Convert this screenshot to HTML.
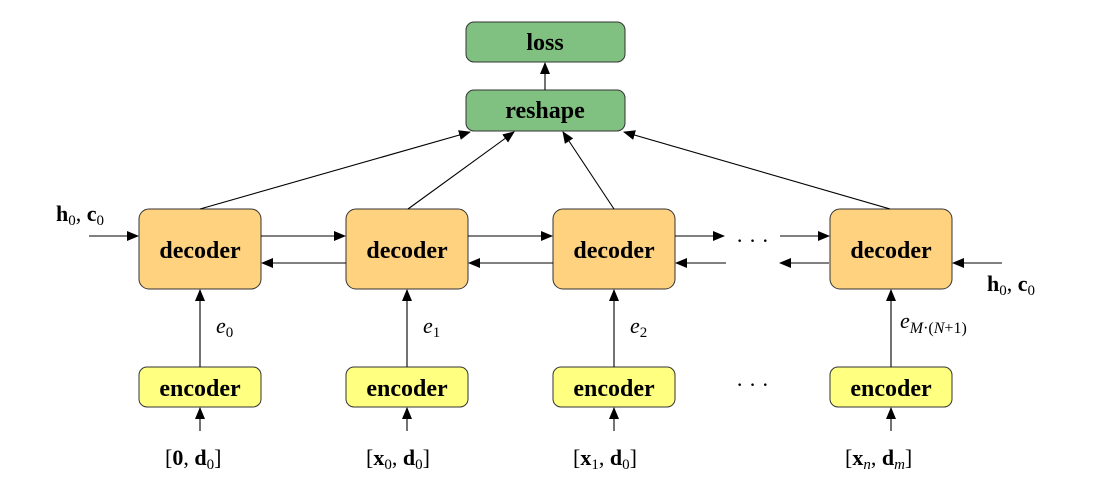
<!DOCTYPE html>
<html><head><style>
body{margin:0;background:#fff;}
svg{display:block;}
text{font-family:"Liberation Serif",serif;}
.b{font-weight:bold;font-size:24px;text-anchor:middle;}
.m{font-size:22px;}
</style></head><body>
<svg width="1105" height="492" viewBox="0 0 1105 492" xmlns="http://www.w3.org/2000/svg">
<defs>
<marker id="a" markerWidth="12" markerHeight="10" refX="11" refY="5" orient="auto" markerUnits="userSpaceOnUse">
<path d="M0,0 L12,5 L0,10 Z" fill="#000"/>
</marker>
</defs>
<g stroke="#333" stroke-width="1">
<rect x="466" y="22" width="159" height="40" rx="8" fill="#80C080"/>
<rect x="466" y="90" width="159" height="41" rx="8" fill="#80C080"/>
<rect x="139" y="209" width="122" height="80" rx="10" fill="#FFD280"/>
<rect x="346" y="209" width="122" height="80" rx="10" fill="#FFD280"/>
<rect x="553" y="209" width="122" height="80" rx="10" fill="#FFD280"/>
<rect x="830" y="209" width="122" height="80" rx="10" fill="#FFD280"/>
<rect x="139" y="367" width="122" height="40" rx="8" fill="#FFFF80"/>
<rect x="346" y="367" width="122" height="40" rx="8" fill="#FFFF80"/>
<rect x="553" y="367" width="122" height="40" rx="8" fill="#FFFF80"/>
<rect x="830" y="367" width="122" height="40" rx="8" fill="#FFFF80"/>
</g>
<g stroke="#000" stroke-width="1.1" marker-end="url(#a)" fill="none">
<line x1="545" y1="90" x2="545" y2="63"/>
<line x1="200" y1="209" x2="470" y2="132"/>
<line x1="408" y1="209" x2="514" y2="132"/>
<line x1="614" y1="209" x2="563" y2="132"/>
<line x1="890" y1="209" x2="624" y2="132"/>
<line x1="89" y1="236" x2="138" y2="236"/>
<line x1="261" y1="236" x2="345" y2="236"/>
<line x1="346" y1="263" x2="262" y2="263"/>
<line x1="468" y1="236" x2="552" y2="236"/>
<line x1="553" y1="263" x2="469" y2="263"/>
<line x1="675" y1="236" x2="724" y2="236"/>
<line x1="726" y1="263" x2="676" y2="263"/>
<line x1="780" y1="236" x2="829" y2="236"/>
<line x1="829" y1="263" x2="780" y2="263"/>
<line x1="1002" y1="263" x2="953" y2="263"/>
<line x1="200" y1="367" x2="200" y2="290"/>
<line x1="407" y1="367" x2="407" y2="290"/>
<line x1="614" y1="367" x2="614" y2="290"/>
<line x1="891" y1="367" x2="891" y2="290"/>
<line x1="200" y1="431" x2="200" y2="408"/>
<line x1="407" y1="431" x2="407" y2="408"/>
<line x1="614" y1="431" x2="614" y2="408"/>
<line x1="891" y1="431" x2="891" y2="408"/>
</g>
<text class="b" x="545" y="50">loss</text>
<text class="b" x="545" y="118">reshape</text>
<text class="b" x="200" y="258">decoder</text>
<text class="b" x="407" y="258">decoder</text>
<text class="b" x="614" y="258">decoder</text>
<text class="b" x="891" y="258">decoder</text>
<text class="b" x="200" y="396">encoder</text>
<text class="b" x="407" y="396">encoder</text>
<text class="b" x="614" y="396">encoder</text>
<text class="b" x="891" y="396">encoder</text>
<text class="m" x="736" y="248">· · ·</text>
<text class="m" x="736" y="392">· · ·</text>
<text class="m" x="56" y="221"><tspan font-weight="bold">h</tspan><tspan font-size="15" dy="4">0</tspan><tspan dy="-4">, </tspan><tspan font-weight="bold">c</tspan><tspan font-size="15" dy="4">0</tspan></text>
<text class="m" x="987" y="291"><tspan font-weight="bold">h</tspan><tspan font-size="15" dy="4">0</tspan><tspan dy="-4">, </tspan><tspan font-weight="bold">c</tspan><tspan font-size="15" dy="4">0</tspan></text>
<text class="m" x="216" y="333" font-style="italic">e<tspan font-size="15" font-style="normal" dy="4">0</tspan></text>
<text class="m" x="423" y="333" font-style="italic">e<tspan font-size="15" font-style="normal" dy="4">1</tspan></text>
<text class="m" x="630" y="333" font-style="italic">e<tspan font-size="15" font-style="normal" dy="4">2</tspan></text>
<text class="m" x="900" y="328" font-style="italic">e<tspan font-size="16" dy="5">M</tspan><tspan font-size="16" font-style="normal">·(</tspan><tspan font-size="16">N</tspan><tspan font-size="16" font-style="normal">+1)</tspan></text>
<text class="m" x="165" y="465">[<tspan font-weight="bold">0</tspan>, <tspan font-weight="bold">d</tspan><tspan font-size="15" dy="4">0</tspan><tspan dy="-4">]</tspan></text>
<text class="m" x="366" y="465">[<tspan font-weight="bold">x</tspan><tspan font-size="15" dy="4">0</tspan><tspan dy="-4">, </tspan><tspan font-weight="bold">d</tspan><tspan font-size="15" dy="4">0</tspan><tspan dy="-4">]</tspan></text>
<text class="m" x="573" y="465">[<tspan font-weight="bold">x</tspan><tspan font-size="15" dy="4">1</tspan><tspan dy="-4">, </tspan><tspan font-weight="bold">d</tspan><tspan font-size="15" dy="4">0</tspan><tspan dy="-4">]</tspan></text>
<text class="m" x="845" y="465">[<tspan font-weight="bold">x</tspan><tspan font-size="15" font-style="italic" dy="4">n</tspan><tspan dy="-4">, </tspan><tspan font-weight="bold">d</tspan><tspan font-size="15" font-style="italic" dy="4">m</tspan><tspan dy="-4">]</tspan></text>
</svg>
</body></html>
